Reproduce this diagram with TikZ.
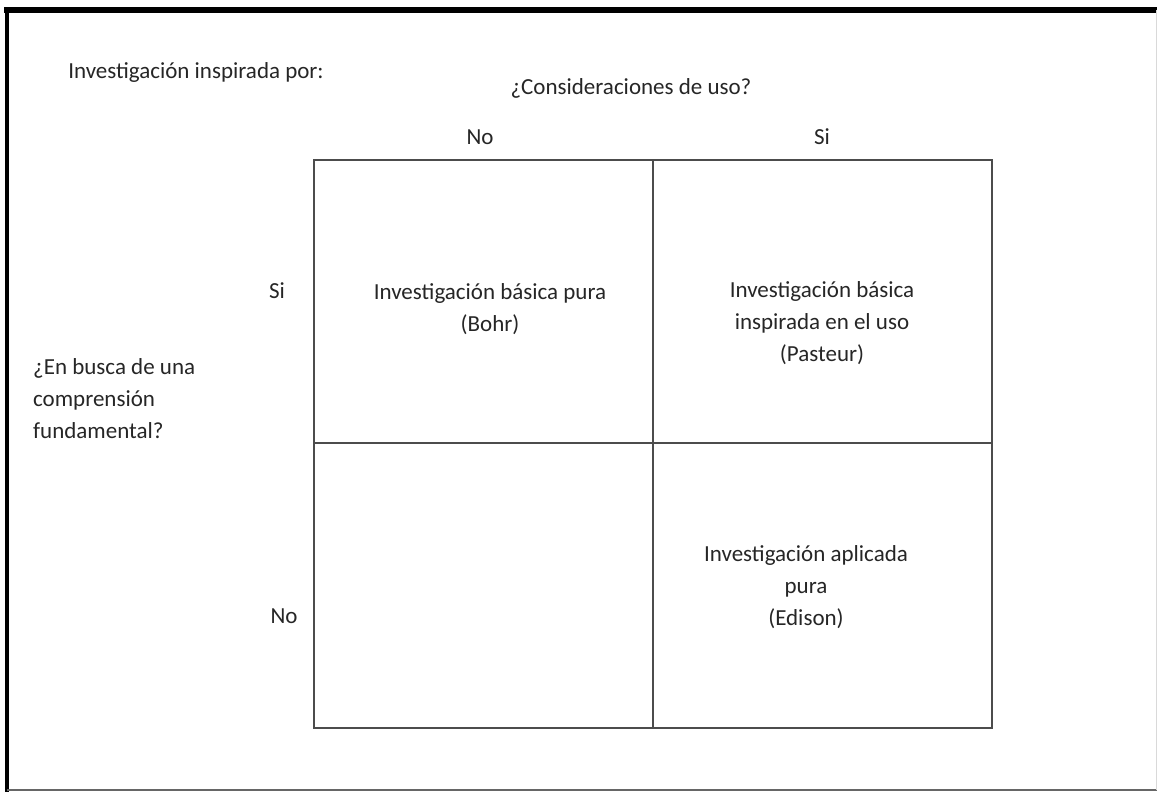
\documentclass[tikz,border=0pt]{standalone}
\usepackage{fontspec}
\setmainfont{Carlito}
\begin{document}
\begin{tikzpicture}[x=1pt,y=-1pt,
    txt/.style={font=\fontsize{23}{32}\selectfont, text=black!85, inner sep=0pt, align=center},
    gridline/.style={draw=black!70, line width=1.6pt}]
  \useasboundingbox (0,0) rectangle (1157,792);
  % frame of the screenshot
  \draw[line width=6pt] (4,10) -- (1157,10);
  \draw[line width=4pt] (7,8) -- (7,792);
  \draw[black!60, line width=2pt] (7,790) -- (1157,790);
  \draw[black!15, line width=1pt] (1156,10) -- (1156,790);
  % corners of the grid
  \coordinate (nw) at (314,160);
  \coordinate (n)  at (653,160);
  \coordinate (ne) at (992,160);
  \coordinate (w)  at (314,443);
  \coordinate (e)  at (992,443);
  \coordinate (sw) at (314,728);
  \coordinate (s)  at (653,728);
  \coordinate (se) at (992,728);
  \draw[gridline] (nw) -- (ne) -- (se) -- (sw) -- cycle;
  \draw[gridline] (n) -- (s);
  \draw[gridline] (w) -- (e);
  % labels
  \node[txt] (title) at (196,72) {Investigación inspirada por:};
  \node[txt] (uso) at (631,88) {¿Consideraciones de uso?};
  \node[txt] (usono) at (480,137) {No};
  \node[txt] (usosi) at (822,137) {Si};
  \node[txt] (fundsi) at (277,291) {Si};
  \node[txt] (fundno) at (284,616) {No};
  \node[txt, anchor=west, align=left] (fund) at (33,399) {¿En busca de una\\comprensión\\fundamental?};
  % cells
  \node[txt] (bohr) at (490,309) {Investigación básica pura\\(Bohr)};
  \node[txt] (pasteur) at (822,323) {Investigación básica\\inspirada en el uso\\(Pasteur)};
  \node[txt] (edison) at (806,587) {Investigación aplicada\\pura\\(Edison)};
\end{tikzpicture}
\end{document}
